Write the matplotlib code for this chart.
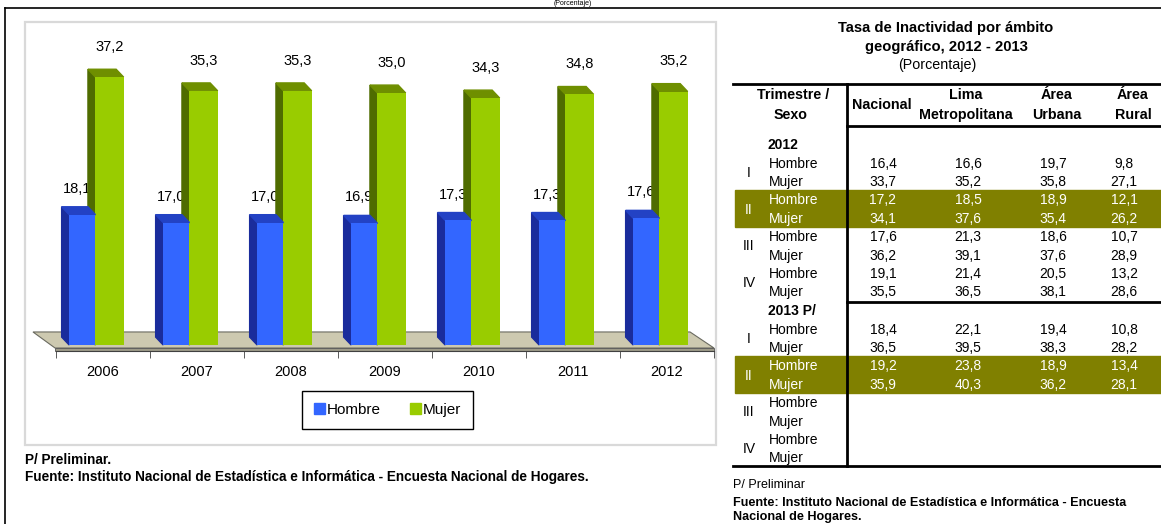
import numpy as np
import matplotlib
matplotlib.use("Agg")
import matplotlib.pyplot as plt
from matplotlib.patches import Polygon, Rectangle, Patch
from matplotlib import font_manager

# ---- chart data ----
years = ["2006", "2007", "2008", "2009", "2010", "2011", "2012"]
hombre = [18.1, 17.0, 17.0, 16.9, 17.3, 17.3, 17.6]
mujer = [37.2, 35.3, 35.3, 35.0, 34.3, 34.8, 35.2]

# ---- table data (rows: I H, I M, II H, II M, III H, III M, IV H, IV M) ----
trimestres = ["I", "II", "III", "IV"]
sexos = ["Hombre", "Mujer"]
columnas = ["Nacional", "Lima\nMetropolitana", "Área\nUrbana", "Área\nRural"]
nac_2012 = [16.4, 33.7, 17.2, 34.1, 17.6, 36.2, 19.1, 35.5]
lima_2012 = [16.6, 35.2, 18.5, 37.6, 21.3, 39.1, 21.4, 36.5]
urb_2012 = [19.7, 35.8, 18.9, 35.4, 18.6, 37.6, 20.5, 38.1]
rur_2012 = [9.8, 27.1, 12.1, 26.2, 10.7, 28.9, 13.2, 28.6]
nac_2013 = [18.4, 36.5, 19.2, 35.9]
lima_2013 = [22.1, 39.5, 23.8, 40.3]
urb_2013 = [19.4, 38.3, 18.9, 36.2]
rur_2013 = [10.8, 28.2, 13.4, 28.1]

installed = {f.name for f in font_manager.fontManager.ttflist}
NARROW = "Liberation Sans Narrow" if "Liberation Sans Narrow" in installed else "Liberation Sans"
SANS = "Liberation Sans"
plt.rcParams["font.family"] = [SANS, "DejaVu Sans"]

W, H = 1161, 524


def fmt(v):
    return f"{v:.1f}".replace(".", ",")


fig = plt.figure(figsize=(W / 100, H / 100), dpi=100)

# overlay in pixel coordinates for frame, table and notes
over = fig.add_axes([0, 0, 1, 1], zorder=0)
over.set_xlim(0, W)
over.set_ylim(H, 0)
over.axis("off")

# outer frame
over.plot([5, W], [8, 8], color="black", lw=1.2)
over.plot([5, 5], [8, H], color="black", lw=1.2)
over.text(573, 3.5, "(Porcentaje)", ha="center", va="center", fontsize=5)

# chart panel border
over.add_patch(Rectangle((25, 22), 691, 423, fill=False, edgecolor="#d9d9d9", lw=1.6))

# ---- 3D-looking bar chart ----
ax = fig.add_axes([25 / W, 1 - 445 / H, 691 / W, 423 / H], zorder=1)
ax.patch.set_visible(False)
ax.set_xlim((25 - 103) / 94, (716 - 103) / 94)
ax.set_ylim(-(445 - 345) / 7.2, (345 - 22) / 7.2)
for s in ["top", "left", "right"]:
    ax.spines[s].set_visible(False)
ax.set_yticks([])

# floor
ax.add_patch(Polygon([(-0.745, 1.81), (6.245, 1.81), (6.5, -0.42), (-0.51, -0.42)],
                     closed=True, facecolor="#cdc9b0", edgecolor="#6a6a60", lw=0.8, zorder=1))
ax.add_patch(Polygon([(-0.51, -0.42), (6.5, -0.42), (6.5, -0.83), (-0.51, -0.83)],
                     closed=True, facecolor="#9d9a88", edgecolor="#555555", lw=0.6, zorder=1))

x = np.arange(len(years))
bw_h, bw_m = 0.28, 0.30
xh = x - 0.36
xm = x - 0.08
dx, dy = -0.08, 1.1


def draw_bars(xs, vals, w, front, side, top, z):
    ax.bar(xs, vals, width=w, align="edge", color=front, zorder=z + 0.2)
    for xi, v in zip(xs, vals):
        ax.add_patch(Polygon([(xi, 0), (xi, v), (xi + dx, v + dy), (xi + dx, dy)],
                             closed=True, color=side, zorder=z))
        ax.add_patch(Polygon([(xi, v), (xi + w, v), (xi + w + dx, v + dy), (xi + dx, v + dy)],
                             closed=True, color=top, zorder=z))


draw_bars(xm, mujer, bw_m, "#99cc00", "#4f6c00", "#6f8f00", 3)
draw_bars(xh, hombre, bw_h, "#3366ff", "#1a2c9c", "#2342c4", 4)

for xi, v in zip(xm, mujer):
    ax.text(xi + bw_m / 2, v + 4.2, fmt(v), ha="center", va="center",
            fontsize=10.5, family=NARROW, zorder=6)
for xi, v in zip(xh, hombre):
    ax.text(xi + bw_h / 2 - 0.06, v + 3.6, fmt(v), ha="center", va="center",
            fontsize=10.5, family=NARROW, zorder=2)

# category axis
ax.spines["bottom"].set_position(("data", -0.83))
ax.spines["bottom"].set_bounds(-0.5, 6.5)
ax.spines["bottom"].set_color("#404040")
ax.set_xticks(x)
ax.set_xticklabels(years, fontsize=10.5, family=NARROW)
ax.set_xticks(np.arange(-0.5, 7), minor=True)
ax.tick_params(axis="x", which="major", length=0, pad=10)
ax.tick_params(axis="x", which="minor", length=5, color="#404040")

leg = ax.legend([Patch(color="#3366ff"), Patch(color="#99cc00")], ["Hombre", "Mujer"],
                loc="center", bbox_to_anchor=(387.5 / W, 1 - 410 / H),
                bbox_transform=fig.transFigure, ncol=2, frameon=True, fancybox=False,
                edgecolor="black", framealpha=1, borderpad=0.8, handlelength=0.7,
                handleheight=0.7, handletextpad=0.15, columnspacing=1.9,
                prop={"family": NARROW, "size": 11})
leg.get_frame().set_linewidth(1.0)

# left notes
over.text(25, 460, "P/ Preliminar.", ha="left", va="center", fontsize=9.8, weight="bold", family=NARROW)
over.text(25, 477, "Fuente: Instituto Nacional de Estadística e Informática - Encuesta Nacional de Hogares.",
          ha="left", va="center", fontsize=9.8, weight="bold", family=NARROW)

# ---- table ----
over.text(946, 28, "Tasa de Inactividad por ámbito", ha="center", va="center", fontsize=10.6, weight="bold")
over.text(946, 47, "geográfico, 2012 - 2013", ha="center", va="center", fontsize=10.6, weight="bold")
over.text(937, 65, "(Porcentaje)", ha="center", va="center", fontsize=10.3)

over.plot([733, W], [84, 84], color="black", lw=2)
over.plot([847, 847], [84, 466], color="black", lw=2)
over.plot([847, W], [126, 126], color="black", lw=2)
over.plot([847, W], [302, 302], color="black", lw=2)
over.plot([733, W], [466, 466], color="black", lw=2)

over.text(793, 95, "Trimestre /", ha="center", va="center", fontsize=10.3, weight="bold")
over.text(791, 115, "Sexo", ha="center", va="center", fontsize=10.3, weight="bold")
col_x = [882, 966, 1057, 1133]
over.text(col_x[0], 105, columnas[0], ha="center", va="center", fontsize=10.3, weight="bold")
for cx, name in zip(col_x[1:], columnas[1:]):
    top_line, bottom_line = name.split("\n")
    over.text(cx, 95, top_line, ha="center", va="center", fontsize=10.3, weight="bold")
    over.text(cx, 115, bottom_line, ha="center", va="center", fontsize=10.3, weight="bold")

val_x = [883, 968, 1053, 1124]
step = 18.4


def draw_block(year_label, y_head, cols):
    over.text(768, y_head, year_label, ha="left", va="center", fontsize=10, weight="bold")
    y0 = y_head + 18.6
    for q, tri in enumerate(trimestres):
        yh = y0 + 2 * q * step
        ym = yh + step
        band = tri == "II"
        color = "white" if band else "black"
        if band:
            over.add_patch(Rectangle((735, yh - 10), W - 735, 2 * step, color="#808000", zorder=0))
        over.text(749, (yh + ym) / 2, tri, ha="center", va="center", fontsize=10, color=color)
        over.text(769, yh, sexos[0], ha="left", va="center", fontsize=10, color=color)
        over.text(769, ym, sexos[1], ha="left", va="center", fontsize=10, color=color)
        for vx, col in zip(val_x, cols):
            if 2 * q + 1 < len(col):
                over.text(vx, yh, fmt(col[2 * q]), ha="center", va="center", fontsize=10, color=color)
                over.text(vx, ym, fmt(col[2 * q + 1]), ha="center", va="center", fontsize=10, color=color)


draw_block("2012", 145, [nac_2012, lima_2012, urb_2012, rur_2012])
draw_block("2013 P/", 311, [nac_2013, lima_2013, urb_2013, rur_2013])

over.text(733, 485, "P/ Preliminar", ha="left", va="center", fontsize=9)
over.text(733, 503, "Fuente: Instituto Nacional de Estadística e Informática - Encuesta",
          ha="left", va="center", fontsize=9.1, weight="bold")
over.text(733, 517, "Nacional de Hogares.", ha="left", va="center", fontsize=9.1, weight="bold")

fig.savefig("out.png", dpi=100)
plt.close(fig)
